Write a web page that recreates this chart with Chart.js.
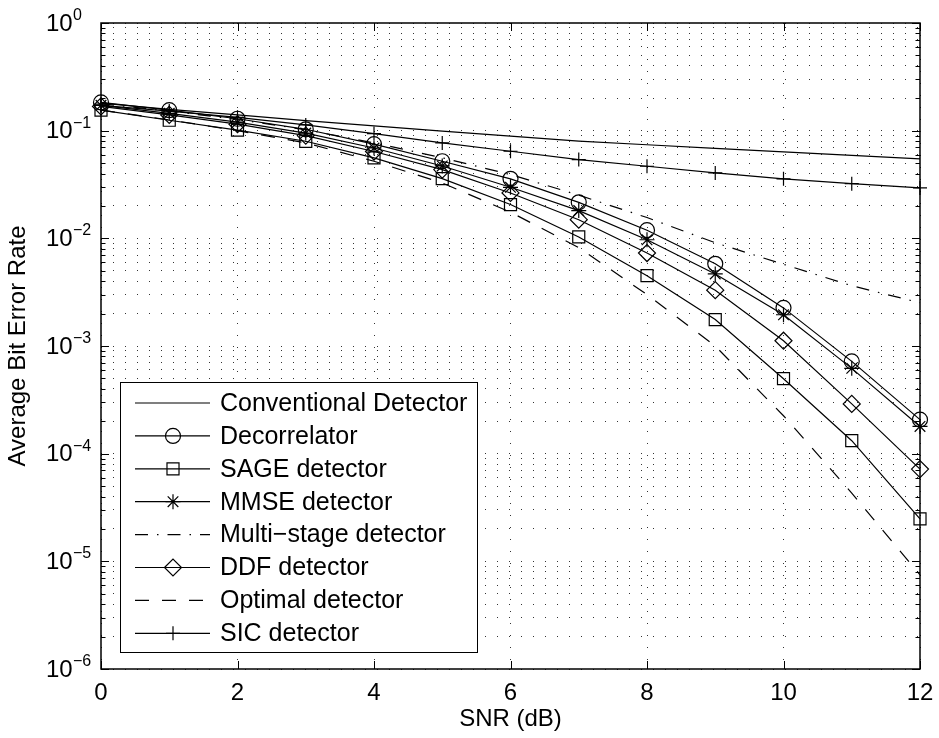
<!DOCTYPE html>
<html>
<head>
<meta charset="utf-8">
<script src="https://cdn.jsdelivr.net/npm/chart.js@4/dist/chart.umd.min.js"></script>
<style>
  html, body { margin: 0; padding: 0; background: #fff; }
  #wrap { width: 939px; height: 738px; }
</style>
</head>
<body>
<div id="wrap"><canvas id="berChart" width="939" height="738"></canvas></div>
<script>
// -------- DATA --------
const snrDb = [0, 1, 2, 3, 4, 5, 6, 7, 8, 9, 10, 11, 12];

const berConventional = [0.18, 0.158, 0.14, 0.124, 0.111, 0.099, 0.089, 0.080, 0.074, 0.0685, 0.0635, 0.059, 0.0547];
const berDecorrelator = [0.183, 0.155, 0.129, 0.103, 0.075, 0.052, 0.0357, 0.0216, 0.0119, 0.0058, 0.00226, 0.00072, 0.000207];
const berSage         = [0.155, 0.125, 0.101, 0.0797, 0.0559, 0.0359, 0.0206, 0.0103, 0.0045, 0.00176, 0.000497, 0.000132, 0.0000248];
const berMmse         = [0.172, 0.145, 0.12, 0.095, 0.069, 0.047, 0.0298, 0.0181, 0.0097, 0.00467, 0.00195, 0.00062, 0.000179];
const berMultiStage   = [0.178, 0.152, 0.127, 0.102, 0.077, 0.056, 0.0391, 0.0252, 0.0156, 0.0091, 0.00574, 0.00363, 0.00252];
const berDdf          = [0.168, 0.14, 0.115, 0.09, 0.064, 0.0435, 0.0264, 0.0149, 0.0073, 0.0033, 0.00112, 0.00029, 0.0000719];
const berOptimal      = [0.155, 0.126, 0.1, 0.077, 0.052, 0.0327, 0.0175, 0.0082, 0.003, 0.001, 0.000225, 0.000043, 0.0000075];
const berSic          = [0.172, 0.152, 0.133, 0.113, 0.094, 0.077, 0.0644, 0.0539, 0.0467, 0.0405, 0.0357, 0.0322, 0.0294];

const seriesLabels = [
    "Conventional Detector", "Decorrelator", "SAGE detector", "MMSE detector",
    "Multi\u2212stage detector", "DDF detector", "Optimal detector", "SIC detector"
];

const xTicks = [0, 2, 4, 6, 8, 10, 12];
const yDecadeExponents = [0, -1, -2, -3, -4, -5, -6];
const yMinorMantissas = [2, 3, 4, 5, 6, 7, 8, 9];

// -------- STYLE --------
const FONT = "'Liberation Sans', Arial, sans-serif";
const DOTTED = [1, 11];

const seriesValues = [berConventional, berDecorrelator, berSage, berMmse, berMultiStage, berDdf, berOptimal, berSic];
const seriesStyle = [
    { marker: null,       radius: 0,   dash: [] },
    { marker: "circle",   radius: 7.5, dash: [] },
    { marker: "rect",     radius: 8.5, dash: [] },
    { marker: "star",     radius: 7.5, dash: [] },
    { marker: null,       radius: 0,   dash: [13, 9, 1.5, 9] },
    { marker: "rectRot",  radius: 8.5, dash: [] },
    { marker: null,       radius: 0,   dash: [14, 13] },
    { marker: "cross",    radius: 7,   dash: [] }
];

// grid values for the log axis: every 1..9 x 10^k
const yGridValues = [];
yDecadeExponents.forEach(e => {
    yGridValues.push(Math.pow(10, e));
    if (e < 0) yMinorMantissas.forEach(m => yGridValues.push(m * Math.pow(10, e)));
});

function isDecade(v) {
    const l = Math.log10(v);
    return Math.abs(l - Math.round(l)) < 1e-9;
}

// -------- FRAME / LABELS / LEGEND (MATLAB look) --------
const matlabFrame = {
    id: "matlabFrame",
    afterDraw(chart) {
        const { ctx, chartArea: a, scales: { x, y } } = chart;
        ctx.save();
        ctx.strokeStyle = "#000";
        ctx.fillStyle = "#000";

        // inward ticks
        ctx.lineWidth = 1;
        ctx.beginPath();
        xTicks.forEach(v => {
            const px = Math.round(x.getPixelForValue(v)) + 0.5;
            ctx.moveTo(px, a.bottom); ctx.lineTo(px, a.bottom - 8);
            ctx.moveTo(px, a.top); ctx.lineTo(px, a.top + 8);
        });
        yGridValues.forEach(v => {
            const py = Math.round(y.getPixelForValue(v)) + 0.5;
            const len = isDecade(v) ? 8 : 4.5;
            ctx.moveTo(a.left, py); ctx.lineTo(a.left + len, py);
            ctx.moveTo(a.right, py); ctx.lineTo(a.right - len, py);
        });
        ctx.stroke();

        // axes box
        ctx.lineWidth = 1.5;
        ctx.strokeRect(a.left, a.top, a.right - a.left, a.bottom - a.top);

        // y tick labels 10^k
        yDecadeExponents.forEach(e => {
            const py = y.getPixelForValue(Math.pow(10, e));
            ctx.textAlign = "left";
            ctx.font = "24px " + FONT;
            ctx.textBaseline = "middle";
            ctx.fillText("10", 46, py + 1);
            ctx.font = "16px " + FONT;
            ctx.textBaseline = "alphabetic";
            ctx.fillText(e === 0 ? "0" : "\u2212" + (-e), 73, py - 3);
        });

        // legend
        const lg = { left: 120, top: 382, right: 477, bottom: 652 };
        ctx.fillStyle = "#fff";
        ctx.fillRect(lg.left, lg.top, lg.right - lg.left, lg.bottom - lg.top);
        ctx.lineWidth = 1;
        ctx.strokeRect(lg.left + 0.5, lg.top + 0.5, lg.right - lg.left, lg.bottom - lg.top);

        chart.data.datasets.forEach((ds, i) => {
            const ry = lg.top + 21 + i * 32.9;
            ctx.lineWidth = ds.borderWidth;
            ctx.setLineDash(ds.borderDash || []);
            ctx.beginPath();
            ctx.moveTo(135, ry); ctx.lineTo(210, ry);
            ctx.stroke();
            ctx.setLineDash([]);
            if (ds.pointRadius > 0) {
                ctx.fillStyle = "rgba(0,0,0,0)";
                Chart.helpers.drawPoint(ctx, {
                    pointStyle: ds.pointStyle, radius: ds.pointRadius,
                    borderWidth: ds.pointBorderWidth, rotation: 0
                }, 173, ry);
            }
            ctx.fillStyle = "#000";
            ctx.font = "25px " + FONT;
            ctx.textAlign = "left";
            ctx.textBaseline = "middle";
            ctx.fillText(ds.label, 220, ry + 1);
        });
        ctx.restore();
    }
};

// -------- CHART --------
const ctx = document.getElementById("berChart").getContext("2d");

new Chart(ctx, {
    type: "line",
    data: {
        datasets: seriesLabels.map((label, i) => ({
            label: label,
            data: snrDb.map((s, j) => ({ x: s, y: seriesValues[i][j] })),
            borderColor: "#000",
            borderWidth: 1.2,
            borderDash: seriesStyle[i].dash,
            pointStyle: seriesStyle[i].marker || "circle",
            pointRadius: seriesStyle[i].radius,
            pointBorderColor: "#000",
            pointBackgroundColor: "rgba(0,0,0,0)",
            pointBorderWidth: 1.2,
            tension: 0,
            fill: false,
            clip: false
        }))
    },
    options: {
        responsive: false,
        animation: false,
        devicePixelRatio: 1,
        layout: { padding: { left: 0, right: 19, top: 23, bottom: 0 } },
        plugins: { legend: { display: false }, tooltip: { enabled: false } },
        scales: {
            x: {
                type: "linear",
                min: 0,
                max: 12,
                ticks: { stepSize: 2, color: "#000", font: { family: FONT, size: 24 }, padding: 10 },
                grid: { color: "#333", lineWidth: 1, drawTicks: false },
                border: { display: false, dash: DOTTED },
                title: { display: true, text: "SNR (dB)", color: "#000", font: { family: FONT, size: 24 } },
                afterFit(s) { s.height = 69; s.paddingLeft = 0; s.paddingRight = 0; }
            },
            y: {
                type: "logarithmic",
                min: 1e-6,
                max: 1,
                ticks: { display: false },
                afterBuildTicks(s) { s.ticks = yGridValues.map(v => ({ value: v })); },
                grid: { color: "#333", lineWidth: 1, drawTicks: false },
                border: { display: false, dash: DOTTED },
                title: { display: true, text: "Average Bit Error Rate", color: "#000", font: { family: FONT, size: 24 } },
                afterFit(s) { s.width = 101; }
            }
        }
    },
    plugins: [matlabFrame]
});
</script>
</body>
</html>
